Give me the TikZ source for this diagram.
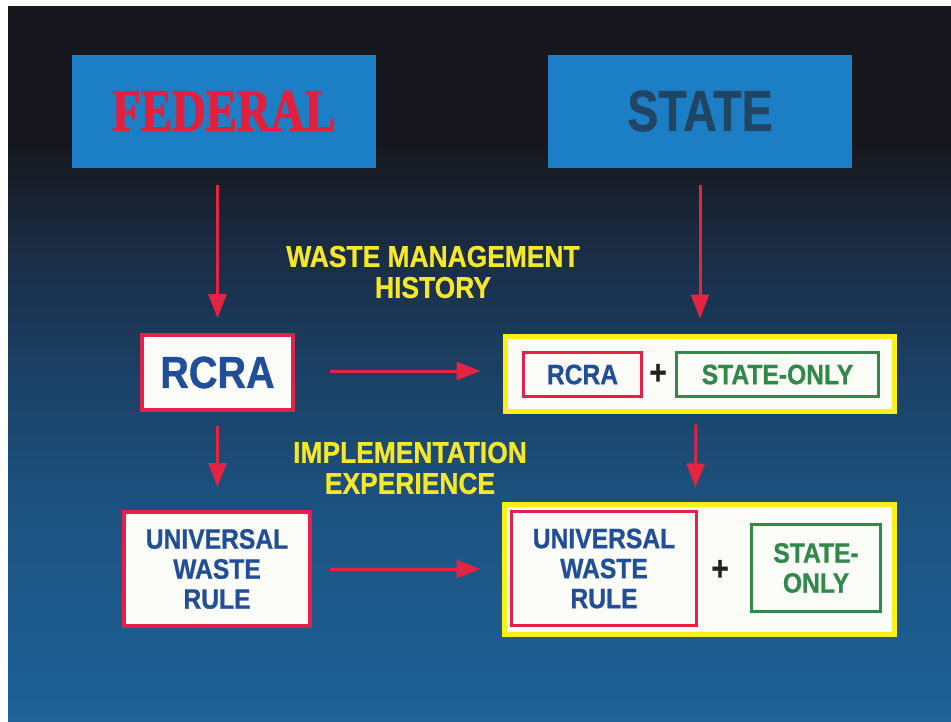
\documentclass[tikz,border=0pt]{standalone}
\usepackage{fontspec}
\usetikzlibrary{arrows.meta}
\setmainfont{Liberation Sans}
\newfontfamily\fedfont[FakeStretch=0.78,FakeBold=1.6]{Liberation Serif}
\newfontfamily\statefont[FakeStretch=0.80,FakeBold=0.8]{Liberation Sans}
\newfontfamily\lblfont[FakeStretch=0.88,FakeBold=0.8]{Liberation Sans}

% palette
\definecolor{bgA}{RGB}{30,98,152}
\definecolor{bgB}{RGB}{28,82,128}
\definecolor{bgC}{RGB}{27,63,99}
\definecolor{bgD}{RGB}{26,44,68}
\definecolor{bgE}{RGB}{24,30,40}
\definecolor{bgF}{RGB}{22,22,28}
\definecolor{topblue}{RGB}{28,126,196}
\definecolor{fedred}{RGB}{226,32,62}
\definecolor{stateslate}{RGB}{32,70,100}
\definecolor{boxred}{RGB}{230,32,72}
\definecolor{boxyel}{RGB}{250,240,20}
\definecolor{boxgrn}{RGB}{48,136,74}
\definecolor{paper}{RGB}{251,251,248}
\definecolor{inkblue}{RGB}{32,78,152}
\definecolor{labelyel}{RGB}{246,232,40}
\definecolor{arrred}{RGB}{228,36,64}
\definecolor{plusink}{RGB}{34,34,34}

% slide background: black at the top, blue at the bottom
\pgfdeclareverticalshading{slidebg}{100bp}{color(0bp)=(bgA); color(25bp)=(bgA); color(40bp)=(bgB); color(50bp)=(bgC); color(58bp)=(bgD); color(63bp)=(bgE); color(66bp)=(bgF); color(100bp)=(bgF)}

\tikzset{
  topbox/.style={fill=topblue, inner sep=0pt, outer sep=0pt},
  redbox/.style={draw=boxred, line width=4pt, fill=paper, inner sep=0pt, outer sep=0pt, align=center},
  inred/.style={draw=boxred, line width=3pt, fill=paper, inner sep=0pt, outer sep=0pt, align=center},
  yelbox/.style={draw=boxyel, line width=5pt, fill=paper, inner sep=0pt, outer sep=0pt},
  grnbox/.style={draw=boxgrn, line width=3pt, fill=paper, inner sep=0pt, outer sep=0pt, align=center,
    text=boxgrn, font=\lblfont\bfseries\fontsize{28}{30}\selectfont},
  bluetext/.style={text=inkblue, font=\lblfont\bfseries\fontsize{28}{30}\selectfont},
  plussign/.style={text=plusink, inner sep=0pt, font=\lblfont\bfseries\fontsize{34}{34}\selectfont},
  lbl/.style={text=labelyel, align=center, inner sep=0pt, font=\lblfont\bfseries\fontsize{30}{31}\selectfont},
  arr/.style={draw=arrred, line width=3pt, -{Triangle[width=18pt,length=24pt]}},
}

\begin{document}
\begin{tikzpicture}[x=1pt,y=-1pt]
\useasboundingbox (0,0) rectangle (951,721);
\fill[white] (0,0) rectangle (951,721);
\shade[shading=slidebg] (8,6) rectangle (951,721);

% headings
\node[topbox, minimum width=304pt, minimum height=113pt] (fed) at (224,111)
  {\textcolor{fedred}{\fedfont\bfseries\fontsize{60}{60}\selectfont FEDERAL}};
\node[topbox, minimum width=304pt, minimum height=113pt] (state) at (700,111)
  {\textcolor{stateslate}{\statefont\bfseries\fontsize{58}{58}\selectfont STATE}};

% federal column
\node[redbox, minimum width=151pt, minimum height=75pt, bluetext,
  font=\lblfont\bfseries\fontsize{45}{45}\selectfont] (rcra) at (217.5,372.5) {RCRA};
\node[redbox, minimum width=186pt, minimum height=114pt, bluetext] (uwr) at (217,569)
  {UNIVERSAL\\WASTE\\RULE};

% state column, upper combination
\node[yelbox, minimum width=389pt, minimum height=75pt] (ry) at (700,374) {};
\node[inred, minimum width=118pt, minimum height=44pt, bluetext] (ryr) at (582.5,374.5) {RCRA};
\node[plussign] (ryp) at (658,374) {+};
\node[grnbox, minimum width=202pt, minimum height=44pt] (ryg) at (777.5,374.5) {STATE-ONLY};

% state column, lower combination
\node[yelbox, minimum width=390pt, minimum height=130pt] (ryb) at (699.5,569.5) {};
\node[inred, minimum width=185pt, minimum height=114pt, bluetext] (rybr) at (604,568.5)
  {UNIVERSAL\\WASTE\\RULE};
\node[plussign] (rybp) at (720,570) {+};
\node[grnbox, minimum width=129pt, minimum height=87pt] (rybg) at (816,568) {STATE-\\ONLY};

% yellow captions
\node[lbl] (hist) at (433,272) {WASTE MANAGEMENT\\HISTORY};
\node[lbl] (impl) at (410,468) {IMPLEMENTATION\\EXPERIENCE};

% arrows
\draw[arr] ([yshift=-17pt]fed.south -| rcra.north) -- ([yshift=17pt]rcra.north);
\draw[arr] ([yshift=-17pt]state.south -| ry.north) -- ([yshift=18pt]ry.north);
\draw[arr] ([xshift=37pt,yshift=1.5pt]rcra.east) -- ([xshift=-25pt,yshift=1.5pt]rcra.east -| ry.west);
\draw[arr] ([yshift=-16pt]rcra.south) -- ([yshift=25pt]rcra.south |- uwr.north);
\draw[arr] ([xshift=-4pt,yshift=-13pt]ry.south) -- ([xshift=-4pt,yshift=17pt]ryb.north);
\draw[arr] ([xshift=20pt]uwr.east) -- ([xshift=-24pt]uwr.east -| ryb.west);
\end{tikzpicture}
\end{document}
